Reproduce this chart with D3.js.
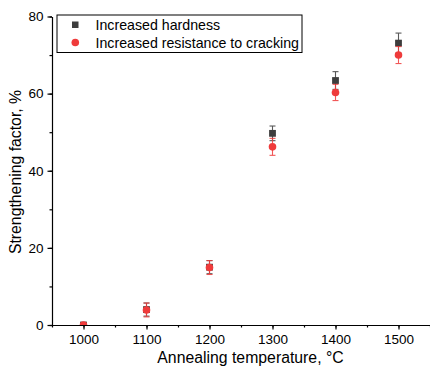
<!DOCTYPE html>
<html lang="en">
<head>
<meta charset="UTF-8">
<script src="https://cdn.jsdelivr.net/npm/d3@7"></script>
<style>
    body { margin: 0; background: #fff; font-family: "Liberation Sans", Arial, sans-serif; }
    .axis text { font-size: 13.5px; fill: #000; font-family: "Liberation Sans", Arial, sans-serif; }
    .axis path, .axis line { stroke: #000; stroke-width: 1.2; }
</style>
</head>
<body>
<svg id="chart" width="430" height="372"></svg>
<script>
// data
const temps = [1000, 1100, 1200, 1300, 1400, 1500];
const hardness = [0, 4.0, 15.0, 49.7, 63.4, 73.1];
const hardnessErr = [0, 1.7, 1.7, 1.9, 2.3, 2.6];
const cracking = [0, 3.9, 14.9, 46.2, 60.3, 70.0];
const crackingErr = [0, 1.8, 1.8, 2.2, 2.1, 2.2];
const xTicks = [1000, 1100, 1200, 1300, 1400, 1500];
const yTicks = [0, 20, 40, 60, 80];
const seriesNames = ["Increased hardness", "Increased resistance to cracking"];

const grey = "#3d3d3d", red = "#ef3b3b";

const svg = d3.select("#chart");
const margin = { left: 52, top: 16.5, right: 0, bottom: 47 };
const width = 430 - margin.left - margin.right,
      height = 372 - margin.top - margin.bottom;

const x = d3.scaleLinear().domain([950, 1550]).range([0, width]);
const y = d3.scaleLinear().domain([0, 80]).range([height, 0]);

const g = svg.append("g").attr("transform", `translate(${margin.left},${margin.top})`);

g.append("clipPath").attr("id", "clip")
    .append("rect").attr("x", 0).attr("y", -10).attr("width", width).attr("height", height + 10);

// minor ticks
g.append("g").attr("class", "axis")
    .attr("transform", `translate(0,${height})`)
    .call(d3.axisBottom(x).tickValues(d3.range(950, 1551, 50)).tickSize(2.5).tickFormat(""))
    .select(".domain").remove();
g.append("g").attr("class", "axis")
    .call(d3.axisLeft(y).tickValues(d3.range(0, 81, 10)).tickSize(2.5).tickFormat(""))
    .select(".domain").remove();

// major axes
g.append("g").attr("class", "axis")
    .attr("transform", `translate(0,${height})`)
    .call(d3.axisBottom(x).tickValues(xTicks).tickFormat(d3.format("d"))
        .tickSize(4.5).tickPadding(5).tickSizeOuter(0));
g.append("g").attr("class", "axis")
    .call(d3.axisLeft(y).tickValues(yTicks).tickSize(4.5).tickPadding(4).tickSizeOuter(0));

const plot = g.append("g").attr("clip-path", "url(#clip)");

function drawSeries(vals, errs, color, shape) {
    const s = plot.append("g");
    const rows = temps.map((t, i) => ({ t: t, v: vals[i], e: errs[i] }));
    const eb = s.selectAll(".eb").data(rows.filter(d => d.e > 0)).enter().append("g")
        .attr("stroke", color).attr("stroke-width", 1.1).attr("opacity", 0.85);
    eb.append("line").attr("x1", d => x(d.t)).attr("x2", d => x(d.t))
        .attr("y1", d => y(d.v - d.e)).attr("y2", d => y(d.v + d.e));
    eb.append("line").attr("x1", d => x(d.t) - 3).attr("x2", d => x(d.t) + 3)
        .attr("y1", d => y(d.v + d.e)).attr("y2", d => y(d.v + d.e));
    eb.append("line").attr("x1", d => x(d.t) - 3).attr("x2", d => x(d.t) + 3)
        .attr("y1", d => y(d.v - d.e)).attr("y2", d => y(d.v - d.e));
    if (shape === "square") {
        s.selectAll("rect").data(rows).enter().append("rect")
            .attr("x", d => x(d.t) - 3.4).attr("y", d => y(d.v) - 3.4)
            .attr("width", 6.8).attr("height", 6.8).attr("fill", color);
    } else {
        s.selectAll("circle").data(rows).enter().append("circle")
            .attr("cx", d => x(d.t)).attr("cy", d => y(d.v))
            .attr("r", 3.8).attr("fill", color);
    }
}
drawSeries(hardness, hardnessErr, grey, "square");
drawSeries(cracking, crackingErr, red, "circle");

// legend
const lg = svg.append("g").attr("transform", "translate(57,15)");
lg.append("rect").attr("width", 245).attr("height", 37.5)
    .attr("fill", "#fff").attr("stroke", "#000").attr("stroke-width", 1);
lg.append("rect").attr("x", 15).attr("y", 6.5).attr("width", 6.5).attr("height", 6.5).attr("fill", grey);
lg.append("circle").attr("cx", 18.3).attr("cy", 27.5).attr("r", 3.8).attr("fill", red);
seriesNames.forEach((name, i) => {
    lg.append("text").attr("x", 38.5).attr("y", 10 + i * 17.7)
        .attr("dy", "0.35em").style("font-size", "14.2px").text(name);
});

// axis titles
svg.append("text").attr("x", 250.5).attr("y", 363)
    .attr("text-anchor", "middle").style("font-size", "15.8px")
    .text("Annealing temperature, °C");
svg.append("text").attr("transform", "translate(21,172) rotate(-90)")
    .attr("text-anchor", "middle").style("font-size", "15.8px")
    .text("Strengthening factor, %");
</script>
</body>
</html>
